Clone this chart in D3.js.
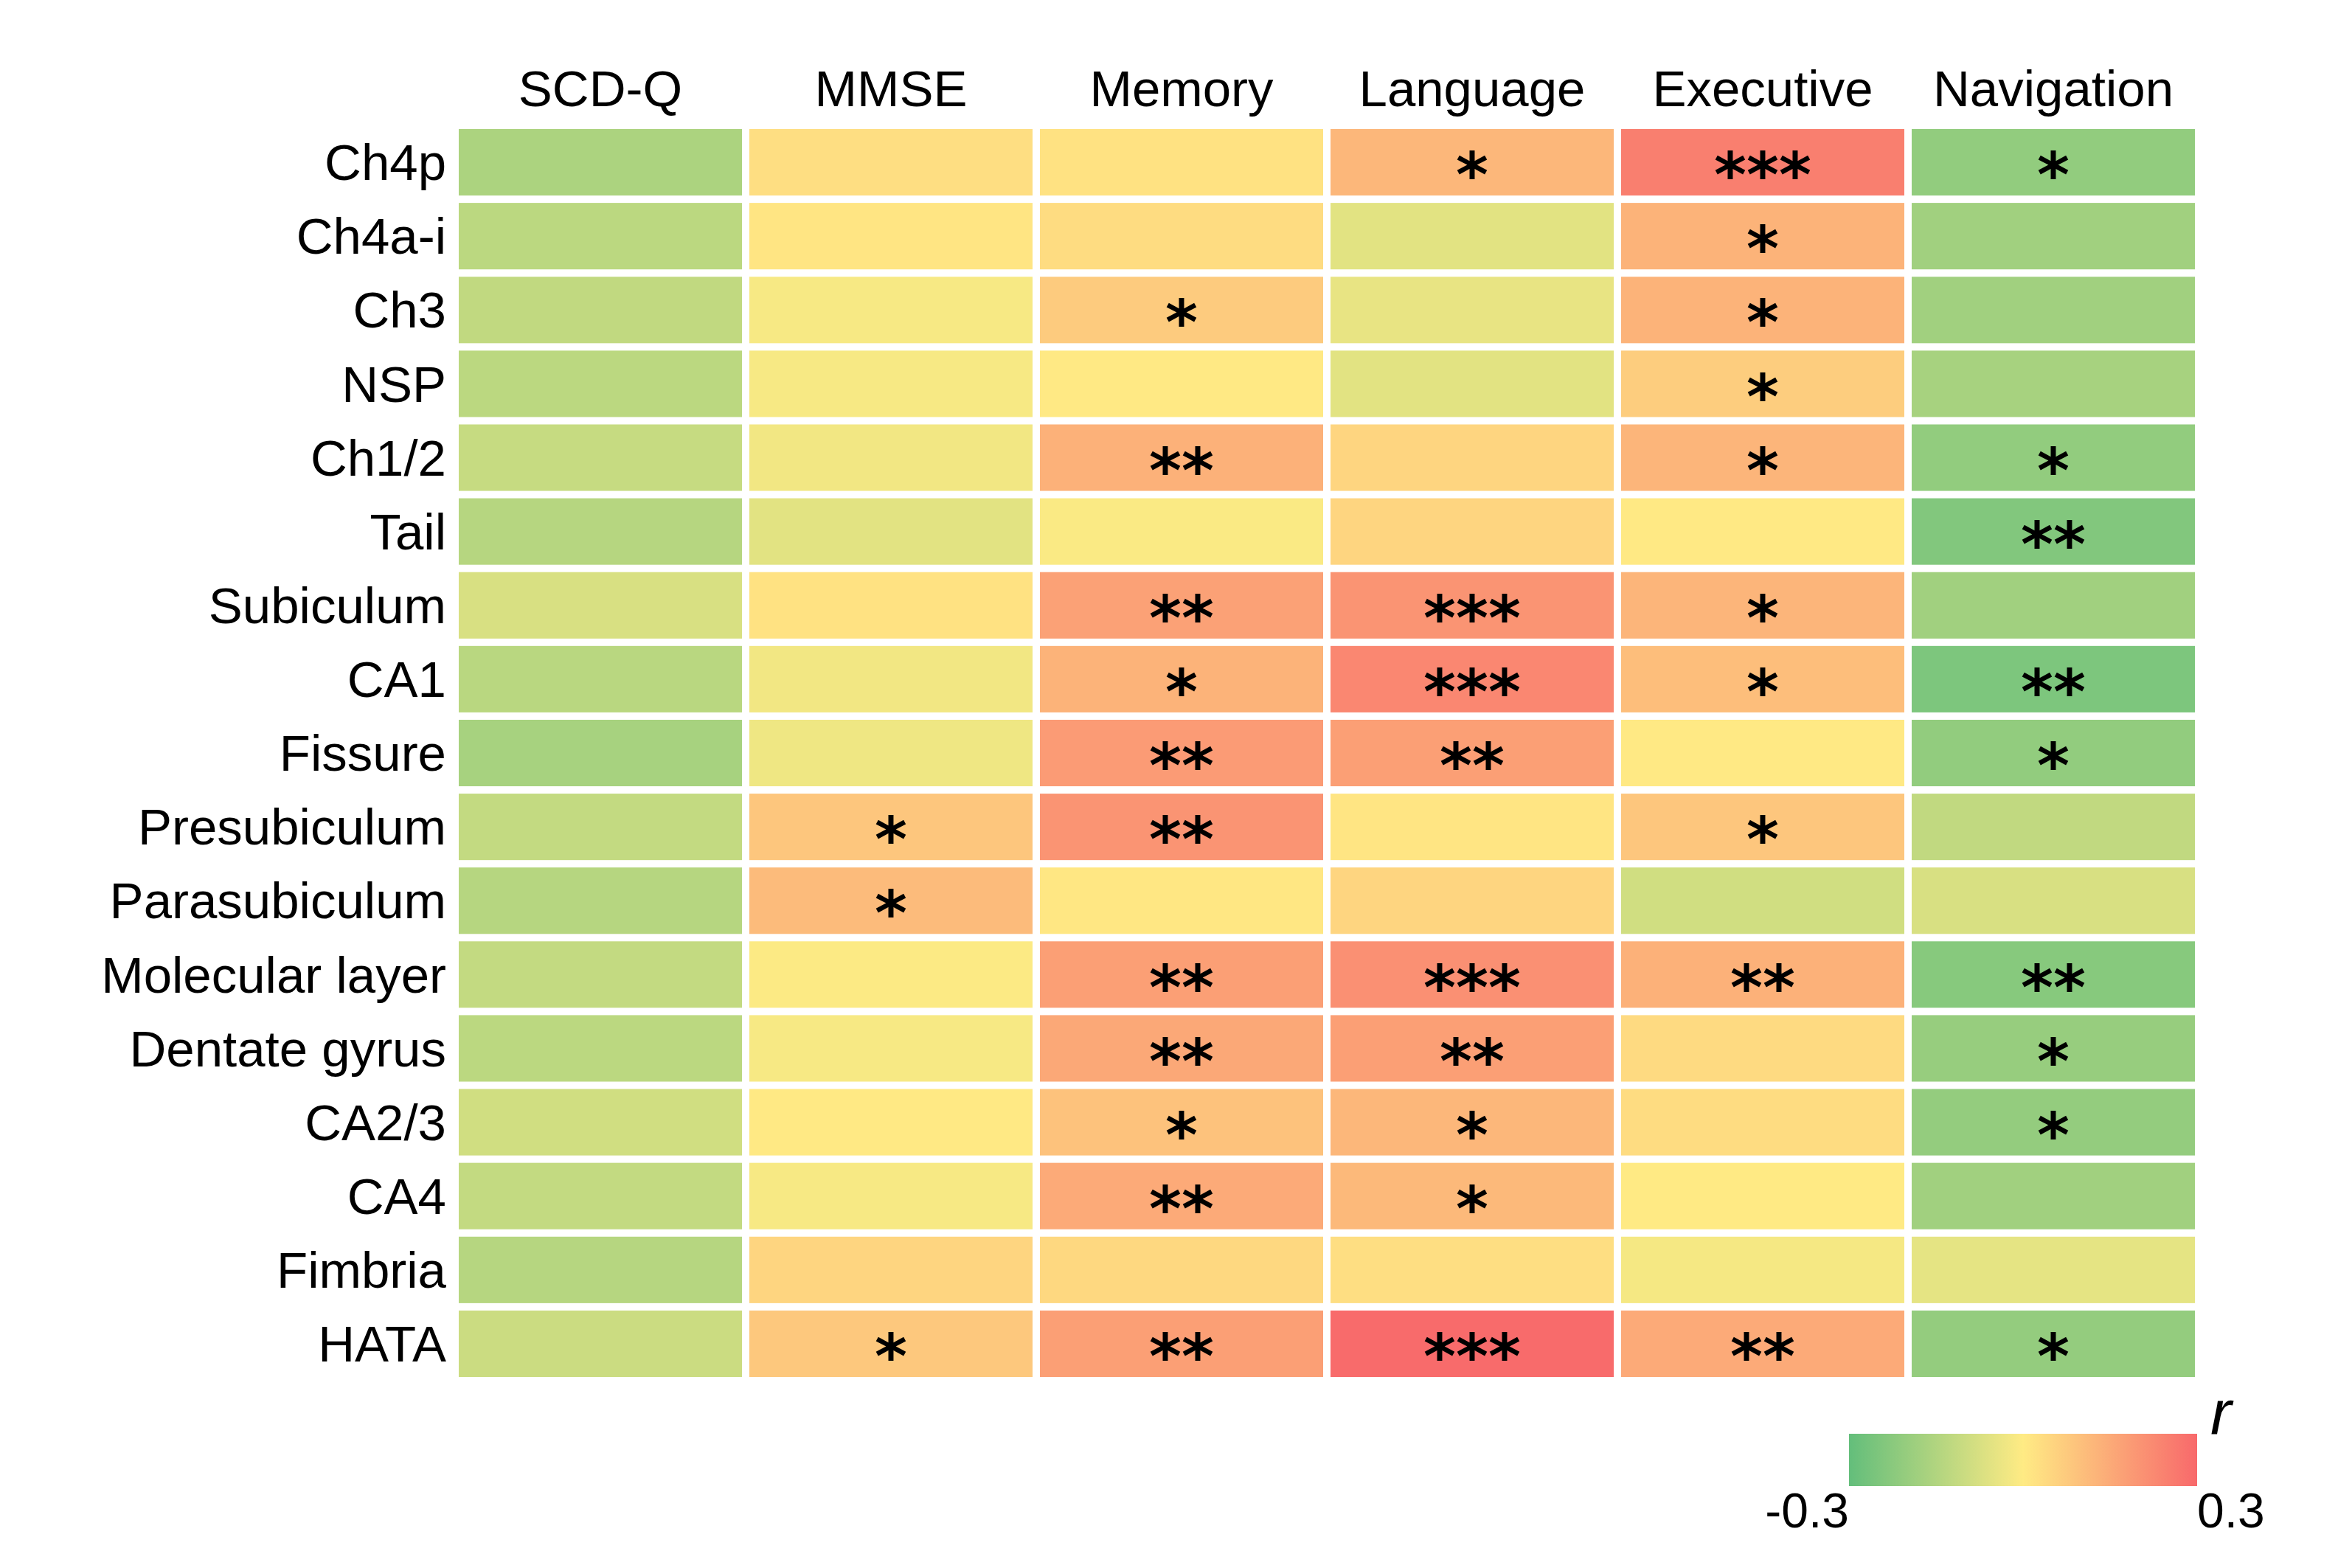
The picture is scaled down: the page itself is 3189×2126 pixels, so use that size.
<!DOCTYPE html>
<html>
<head>
<meta charset="utf-8">
<script src="https://cdn.jsdelivr.net/npm/d3@7"></script>
<style>
  body { margin: 0; background: #fff; }
  text { font-family: "Liberation Sans", Arial, sans-serif; fill: #000; }
</style>
</head>
<body>
<svg id="chart"></svg>
<script>
// data
const regions = ["Ch4p", "Ch4a-i", "Ch3", "NSP", "Ch1/2", "Tail", "Subiculum", "CA1", "Fissure",
  "Presubiculum", "Parasubiculum", "Molecular layer", "Dentate gyrus", "CA2/3", "CA4", "Fimbria", "HATA"];
const measures = ["SCD-Q", "MMSE", "Memory", "Language", "Executive", "Navigation"];

// correlation r, one row per region (SCD-Q, MMSE, Memory, Language, Executive, Navigation)
const rValues = [
  [-0.16, 0.03, 0.02, 0.12, 0.25, -0.21],
  [-0.13, 0.015, 0.035, -0.055, 0.13, -0.18],
  [-0.12, -0.015, 0.075, -0.045, 0.13, -0.18],
  [-0.13, -0.015, 0.005, -0.055, 0.07, -0.17],
  [-0.11, -0.025, 0.135, 0.05, 0.125, -0.21],
  [-0.14, -0.055, -0.01, 0.05, 0.005, -0.24],
  [-0.075, 0.02, 0.17, 0.2, 0.125, -0.18],
  [-0.135, -0.025, 0.13, 0.23, 0.105, -0.25],
  [-0.17, -0.03, 0.185, 0.175, 0.005, -0.21],
  [-0.115, 0.085, 0.2, 0.015, 0.085, -0.12],
  [-0.14, 0.11, 0.01, 0.05, -0.09, -0.075],
  [-0.115, -0.005, 0.175, 0.21, 0.135, -0.23],
  [-0.13, -0.015, 0.155, 0.175, 0.04, -0.2],
  [-0.09, 0.005, 0.095, 0.12, 0.035, -0.205],
  [-0.115, -0.015, 0.15, 0.115, 0.003, -0.18],
  [-0.14, 0.05, 0.045, 0.03, -0.02, -0.05],
  [-0.10, 0.08, 0.175, 0.295, 0.15, -0.205]
];

// significance marks
const stars = [
  ["", "", "", "*", "***", "*"],
  ["", "", "", "", "*", ""],
  ["", "", "*", "", "*", ""],
  ["", "", "", "", "*", ""],
  ["", "", "**", "", "*", "*"],
  ["", "", "", "", "", "**"],
  ["", "", "**", "***", "*", ""],
  ["", "", "*", "***", "*", "**"],
  ["", "", "**", "**", "", "*"],
  ["", "*", "**", "", "*", ""],
  ["", "*", "", "", "", ""],
  ["", "", "**", "***", "**", "**"],
  ["", "", "**", "**", "", "*"],
  ["", "", "*", "*", "", "*"],
  ["", "", "**", "*", "", ""],
  ["", "", "", "", "", ""],
  ["", "*", "**", "***", "**", "*"]
];

const legendTicks = [-0.3, 0.3];
const colorStops = ["#63BE7B", "#FFEB84", "#F8696B"];

// size
const W = 3189, H = 2126;
const svg = d3.select("#chart").attr("width", W).attr("height", H);

const x = d3.scaleBand()
  .domain(measures)
  .range([622, 2976])
  .paddingInner(0.0254);

const y = d3.scaleBand()
  .domain(regions)
  .range([175, 1867])
  .paddingInner(0.1);

const color = d3.scaleLinear()
  .domain([-0.3, 0, 0.3])
  .range(colorStops)
  .clamp(true);

const cells = [];
regions.forEach((reg, i) => {
  measures.forEach((m, j) => {
    cells.push({ region: reg, measure: m, r: rValues[i][j], star: stars[i][j] });
  });
});

// heat cells
svg.append("g").selectAll("rect")
  .data(cells).enter()
  .append("rect")
  .attr("x", d => x(d.measure))
  .attr("y", d => y(d.region))
  .attr("width", x.bandwidth())
  .attr("height", y.bandwidth())
  .attr("fill", d => color(d.r));

// asterisks (DejaVu's glyph is big for its em, keeps the text box inside a row)
const starSize = 84;
svg.append("g").selectAll("text")
  .data(cells.filter(d => d.star)).enter()
  .append("text")
  .attr("x", d => x(d.measure) + x.bandwidth() / 2)
  .attr("y", d => y(d.region) + y.bandwidth() / 2 + starSize * 0.55)
  .attr("text-anchor", "middle")
  .style("font-family", "'DejaVu Sans', sans-serif")
  .style("font-weight", "bold")
  .style("font-size", starSize + "px")
  .text(d => d.star);

// column labels
const topAxis = svg.append("g")
  .attr("transform", "translate(0," + 175 + ")")
  .call(d3.axisTop(x).tickSize(0).tickPadding(31));
topAxis.select(".domain").remove();
topAxis.selectAll("text")
  .style("font-size", "69px")
  .style("font-family", "'Liberation Sans', Arial, sans-serif")
  .attr("fill", "#000");

// row labels
const leftAxis = svg.append("g")
  .attr("transform", "translate(" + 622 + ",0)")
  .call(d3.axisLeft(y).tickSize(0).tickPadding(17));
leftAxis.select(".domain").remove();
leftAxis.selectAll("text")
  .attr("dy", "0.35em")
  .style("font-size", "69px")
  .style("font-family", "'Liberation Sans', Arial, sans-serif")
  .attr("fill", "#000");

// colour bar
const lx = d3.scaleLinear().domain([-0.3, 0.3]).range([2507, 2979]);
const grad = svg.append("defs").append("linearGradient")
  .attr("id", "rgrad")
  .attr("x1", "0%").attr("x2", "100%").attr("y1", "0%").attr("y2", "0%");
grad.selectAll("stop")
  .data(color.domain()).enter()
  .append("stop")
  .attr("offset", d => ((d + 0.3) / 0.6 * 100) + "%")
  .attr("stop-color", d => color(d));

svg.append("rect")
  .attr("x", lx(-0.3))
  .attr("y", 1944)
  .attr("width", lx(0.3) - lx(-0.3))
  .attr("height", 71)
  .attr("fill", "url(#rgrad)");

svg.append("g").selectAll("text")
  .data(legendTicks).enter()
  .append("text")
  .attr("x", d => lx(d))
  .attr("y", 2071)
  .attr("text-anchor", d => d < 0 ? "end" : "start")
  .style("font-size", "66px")
  .text(d => d);

svg.append("text")
  .attr("x", lx(0.3) + 18)
  .attr("y", 1945)
  .style("font-size", "86px")
  .style("font-style", "italic")
  .text("r");
</script>
</body>
</html>
